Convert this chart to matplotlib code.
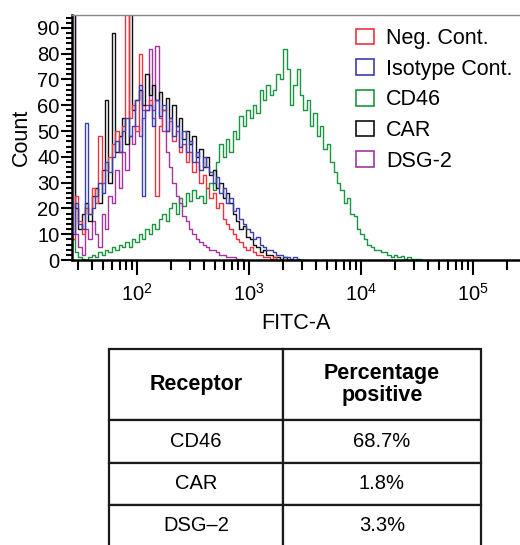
import numpy as np
import matplotlib
matplotlib.use('Agg')
import matplotlib.pyplot as plt
from matplotlib import ticker
from matplotlib.patches import Patch

plt.rcParams['font.family'] = ['Liberation Sans', 'DejaVu Sans']
plt.rcParams['mathtext.fontset'] = 'custom'
plt.rcParams['mathtext.rm'] = 'Liberation Sans'
plt.rcParams['mathtext.it'] = 'Liberation Sans'

# histogram bins (log10 of FITC-A)
log_start = 1.43
log_step = 0.03

neg_cont = [8, 25, 15, 10, 20, 18, 28, 22, 48, 30, 35, 40, 45, 50, 42, 52, 97, 55, 60, 50,
            80, 58, 58, 62, 55, 25, 52, 58, 50, 54, 46, 50, 42, 45, 38, 42, 34, 38, 30, 33,
            28, 24, 26, 20, 22, 16, 14, 12, 10, 8, 7, 5, 4, 5, 3, 2, 2, 1, 1, 0.5,
            1, 0, 0, 0]
isotype = [10, 22, 14, 12, 53, 18, 20, 25, 30, 26, 38, 34, 40, 46, 42, 50, 55, 48, 52, 62,
           68, 25, 58, 60, 52, 62, 56, 60, 50, 55, 48, 52, 44, 50, 42, 46, 38, 42, 35, 40,
           36, 34, 30, 32, 26, 28, 22, 24, 19, 20, 16, 14, 12, 11, 8, 9, 6, 5, 4, 4,
           3, 2, 2, 1, 1, 0.5, 1, 0.5, 0, 0]
car = [97, 20, 12, 18, 22, 15, 25, 28, 22, 35, 62, 30, 88, 42, 48, 55, 45, 97, 58, 62,
       66, 60, 72, 64, 68, 62, 65, 58, 63, 55, 60, 52, 55, 47, 50, 45, 48, 40, 43, 36,
       40, 33, 35, 28, 30, 24, 26, 22, 18, 15, 12, 13, 9, 8, 6, 5, 3, 4, 2, 2,
       1, 1, 0.5, 1, 0, 0]
dsg2 = [97, 10, 5, 2, 12, 8, 15, 10, 5, 18, 12, 25, 22, 35, 28, 42, 35, 48, 45, 52,
        48, 55, 60, 82, 58, 83, 55, 50, 42, 36, 30, 25, 22, 17, 15, 12, 10, 8, 7, 6,
        5, 4, 4, 3, 2, 2, 1, 1, 1, 0.5, 0.5, 0, 0]
cd46 = [8, 3, 1, 0.5, 0, 1, 2, 1, 3, 2, 4, 3, 5, 4, 6, 5, 7, 5, 8, 7,
        10, 8, 12, 10, 14, 12, 16, 18, 15, 20, 22, 18, 24, 21, 26, 23, 27, 24, 25, 22,
        28, 30, 27, 38, 45, 40, 47, 42, 50, 47, 56, 52, 58, 55, 60, 57, 66, 62, 68, 64,
        66, 72, 70, 82, 74, 60, 68, 74, 64, 58, 62, 52, 57, 48, 52, 43, 45, 38, 34, 30,
        27, 22, 24, 18, 17, 12, 10, 8, 6, 5, 4, 4, 3, 3, 2, 1, 2, 1, 1.5, 0.5,
        1, 0.5, 0.5, 0.5, 0]

series = [
    ('CD46', cd46, '#1a9640'),
    ('DSG-2', dsg2, '#a3359f'),
    ('CAR', car, '#111111'),
    ('Neg. Cont.', neg_cont, '#ee3340'),
    ('Isotype Cont.', isotype, '#3b3fae'),
]
legend_order = ['Neg. Cont.', 'Isotype Cont.', 'CD46', 'CAR', 'DSG-2']

receptors = ['CD46', 'CAR', 'DSG\u20132']
pct_positive = ['68.7%', '1.8%', '3.3%']

fig = plt.figure(figsize=(5.2, 5.45), dpi=100)
ax = fig.add_axes([72/520, 1 - 260/545, 448/520, 245/545])

colors = {}
for name, vals, col in series:
    colors[name] = col
    x = 10 ** (log_start + log_step * np.arange(len(vals)))
    ax.plot(x, vals, drawstyle='steps-mid', color=col, lw=1.0)

ax.set_xscale('log')
ax.set_xlim(10 ** 1.42, 10 ** 5.42)
ax.set_ylim(0, 95)

ax.xaxis.set_major_locator(ticker.FixedLocator([1e2, 1e3, 1e4, 1e5]))
ax.xaxis.set_major_formatter(ticker.LogFormatterMathtext())
ax.xaxis.set_minor_locator(ticker.LogLocator(base=10, subs=np.arange(2, 10)))
ax.xaxis.set_minor_formatter(ticker.NullFormatter())
ax.yaxis.set_major_locator(ticker.MultipleLocator(10))
ax.yaxis.set_minor_locator(ticker.MultipleLocator(2))

ax.tick_params(which='both', direction='out', width=1.5, labelsize=14.5)
ax.tick_params(axis='y', which='major', length=8, pad=1)
ax.tick_params(axis='y', which='minor', length=4.5)
ax.tick_params(axis='x', which='major', length=10.5, pad=6)
ax.tick_params(axis='x', which='minor', length=7)

for side in ['left', 'bottom']:
    ax.spines[side].set_linewidth(1.8)
ax.spines['right'].set_visible(False)
ax.spines['top'].set_color('#888888')
ax.spines['top'].set_linewidth(1.0)

ax.set_ylabel('Count', fontsize=15.5, labelpad=4)
ax.set_xlabel('FITC-A', fontsize=15.5, labelpad=6)

handles = [Patch(facecolor='none', edgecolor=colors[n], linewidth=1.2, label=n) for n in legend_order]
ax.legend(handles=handles, loc='upper left', bbox_to_anchor=(356/520, 1 - 28/545),
          bbox_transform=fig.transFigure, frameon=False, fontsize=15.5,
          handlelength=0.85, handleheight=0.75, handletextpad=0.55, labelspacing=0.45,
          borderpad=0, borderaxespad=0)

# table
tax = fig.add_axes([109/520, 1 - 547/545, 372/520, 198/545])
tax.axis('off')
cell_text = [[r, p] for r, p in zip(receptors, pct_positive)]
tbl = tax.table(cellText=cell_text, colLabels=['Receptor', 'Percentage\npositive'],
                cellLoc='center', bbox=[0, 0, 1, 1])
tbl.auto_set_font_size(False)
tbl.set_fontsize(14.5)
col_w = [174, 198]
for (r, c), cell in tbl.get_celld().items():
    cell.set_linewidth(1.6)
    cell.set_edgecolor('#1a1a1a')
    cell.set_width(col_w[c])
    cell.set_height(71 if r == 0 else 42)
    if r == 0:
        cell.get_text().set_fontweight('bold')
        cell.get_text().set_fontsize(15.5)
        cell.get_text().set_linespacing(1.05)

fig.savefig('out.png', dpi=100)
